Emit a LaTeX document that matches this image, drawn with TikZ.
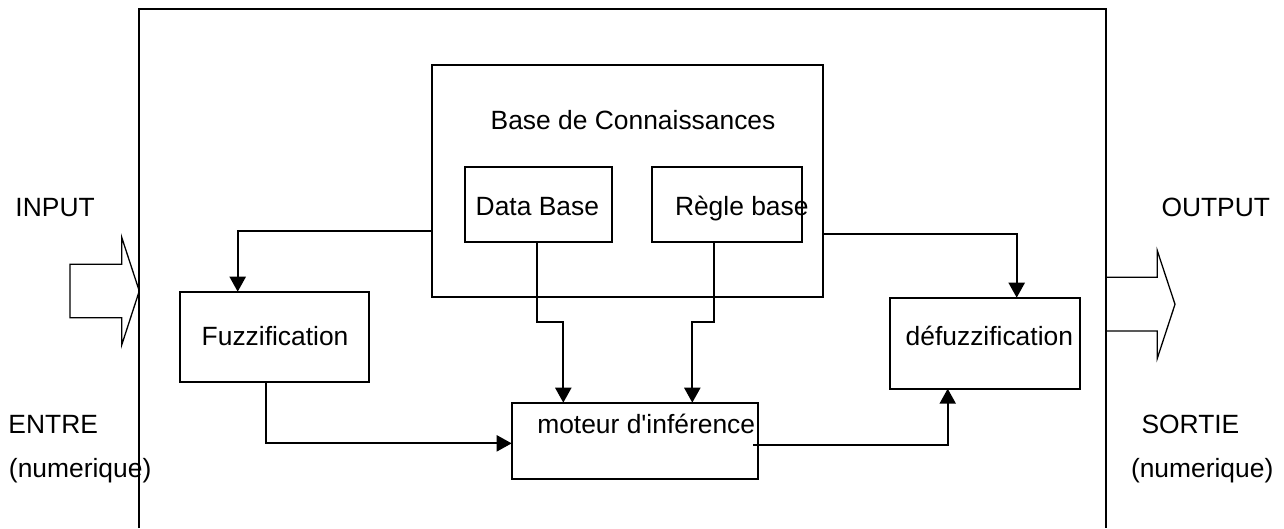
\documentclass[tikz,border=0pt]{standalone}
\usepackage{fontspec}
\setmainfont{Liberation Sans}
\usetikzlibrary{arrows.meta,calc}

\tikzset{
  box/.style={draw, line width=1.8pt, inner sep=0pt, outer sep=0pt},
  lbl/.style={inner sep=0pt, outer sep=0pt, anchor=base west,
              font=\fontsize{26.4pt}{31pt}\selectfont},
  wire/.style={line width=2.2pt},
  arr/.style={wire, -{Triangle[width=16pt,length=15pt]}},
  fat/.style={line width=1.3pt, line join=miter},
}

\begin{document}
\begin{tikzpicture}[x=1pt, y=-1pt]
  \useasboundingbox (0,0) rectangle (1284,528);

  % system frame (open at the bottom)
  \coordinate (fbl) at (139.3,528);
  \coordinate (ftl) at (139.3,9);
  \coordinate (ftr) at (1105.7,9);
  \coordinate (fbr) at (1105.7,528);
  \draw[line width=2pt] (fbl) -- (ftl) -- (ftr) -- (fbr);

  % boxes
  \node[box, minimum width=391.6pt, minimum height=231.7pt] (bdc)    at (627.5,180.85) {};
  \node[box, minimum width=146.7pt, minimum height=75.3pt]  (data)   at (538.35,204.35) {};
  \node[box, minimum width=150pt,   minimum height=75.3pt]  (regle)  at (727.3,204.35) {};
  \node[box, minimum width=189.6pt, minimum height=90.3pt]  (fuzz)   at (274.5,336.85) {};
  \node[box, minimum width=190pt,   minimum height=91pt]    (defuzz) at (984.7,343.2) {};
  \node[box, minimum width=246pt,   minimum height=76.3pt]  (moteur) at (634.7,440.85) {};

  % labels
  \node[lbl] (tbdc)    at (490.7,129.3) {Base de Connaissances};
  \node[lbl] (tdata)   at (475.7,215.7) {Data Base};
  \node[lbl] (tregle)  at (675,215.7)   {Règle base};
  \node[lbl] (tfuzz)   at (201.7,345.7) {Fuzzification};
  \node[lbl] (tdefuzz) at (905.7,345.7) {défuzzification};
  \node[lbl] (tmoteur) at (537.3,433.3) {moteur d\textquotesingle inférence};

  \node[lbl] (tin)   at (15.5,216)   {INPUT};
  \node[lbl] (tent)  at (8.5,433.3)  {ENTRE};
  \node[lbl] (tnum1) at (9,477.7)    {(numerique)};
  \node[lbl] (tout)  at (1161.5,216) {OUTPUT};
  \node[lbl] (tsor)  at (1141.5,433.3) {SORTIE};
  \node[lbl] (tnum2) at (1131,477.7) {(numerique)};

  % input / output block arrows
  \draw[fat] (70,264.3) -- (121.7,264.3) -- (121.7,237.3) -- (139.3,291)
             -- (121.7,345) -- (121.7,317.7) -- (70,317.7) -- cycle;
  \draw[fat] (1105.7,277.3) -- (1157.3,277.3) -- (1157.3,250.7) -- (1175,304.3)
             -- (1157.3,358.3) -- (1157.3,331) -- (1105.7,331);

  % connectors
  \draw[arr] ([yshift=-50pt]bdc.west) -| ([xshift=-36.8pt]fuzz.north);
  \draw[arr] ([yshift=-53.5pt]bdc.east) -| ([xshift=32pt]defuzz.north);
  \draw[arr] ([xshift=-1.65pt]data.south) -- ++(0,80.3) -| ([xshift=-71.4pt]moteur.north);
  \draw[arr] ([xshift=-13.3pt]regle.south) -- ++(0,80.3) -| ([xshift=57.6pt]moteur.north);
  \draw[arr] ([xshift=-8.8pt]fuzz.south) |- ([yshift=-2.5pt]moteur.west);
  \draw[arr] ([xshift=-4.4pt,yshift=-4.2pt]moteur.east) -| ([xshift=-37pt]defuzz.south);
\end{tikzpicture}
\end{document}
